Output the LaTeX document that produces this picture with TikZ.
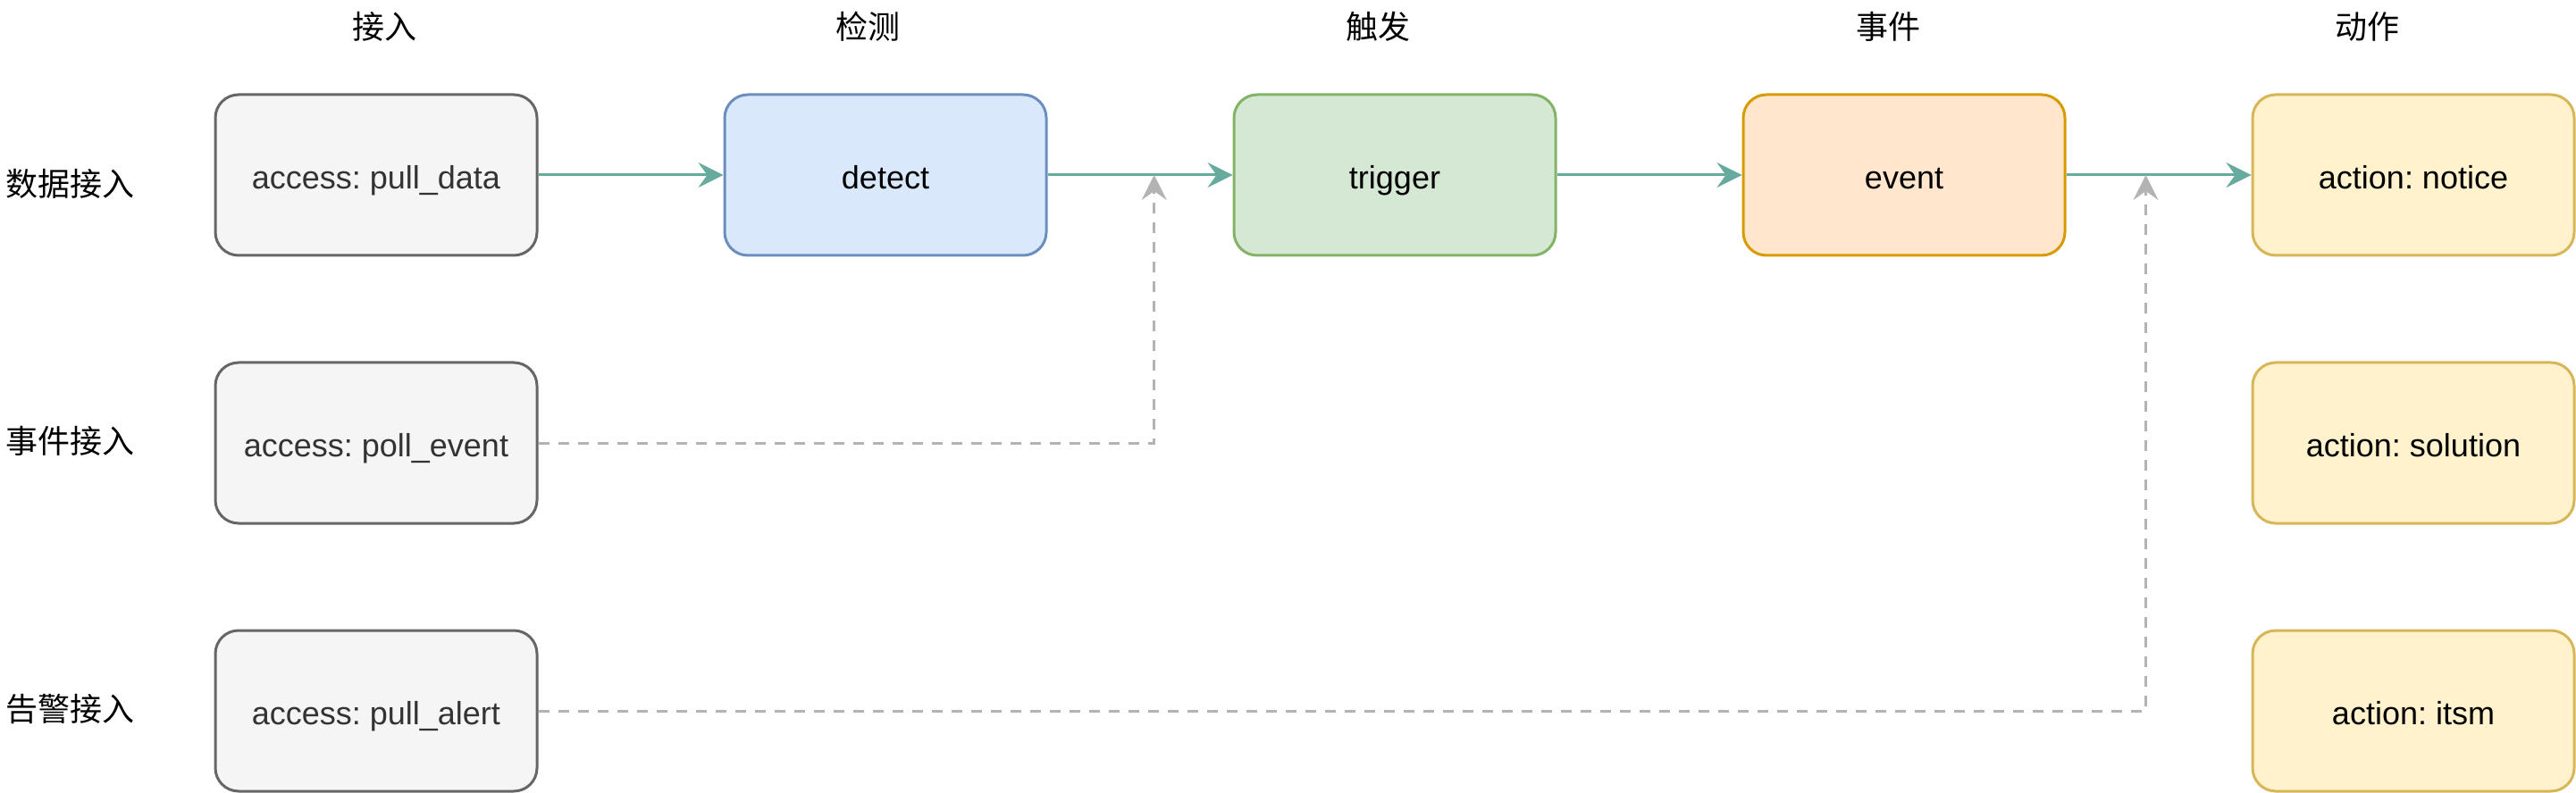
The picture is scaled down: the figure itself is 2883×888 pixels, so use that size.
\documentclass[tikz,border=0pt]{standalone}
\usepackage{fontspec}
\setmainfont{Liberation Sans}
\newfontfamily\cjk{Noto Sans CJK SC}
\usetikzlibrary{arrows.meta}
\frenchspacing

\definecolor{grayfill}{HTML}{F5F5F5}
\definecolor{graydraw}{HTML}{666666}
\definecolor{graytext}{HTML}{333333}
\definecolor{bluefill}{HTML}{DAE8FC}
\definecolor{bluedraw}{HTML}{6C8EBF}
\definecolor{greenfill}{HTML}{D5E8D4}
\definecolor{greendraw}{HTML}{82B366}
\definecolor{orangefill}{HTML}{FFE6CC}
\definecolor{orangedraw}{HTML}{D79B00}
\definecolor{yellowfill}{HTML}{FFF2CC}
\definecolor{yellowdraw}{HTML}{D6B656}
\definecolor{flowcolor}{HTML}{67AB9F}
\definecolor{dashcolor}{HTML}{B3B3B3}

\tikzset{
	box/.style={draw, rounded corners=6.5pt, minimum width=90pt, minimum height=45pt, inner sep=0pt, line width=0.75pt, text height=0.98em, text depth=0.2em},
	graybox/.style={box, fill=grayfill, draw=graydraw, text=graytext},
	bluebox/.style={box, fill=bluefill, draw=bluedraw},
	greenbox/.style={box, fill=greenfill, draw=greendraw},
	orangebox/.style={box, fill=orangefill, draw=orangedraw},
	yellowbox/.style={box, fill=yellowfill, draw=yellowdraw},
	flow/.style={draw=flowcolor, line width=0.75pt, -{Stealth[length=7pt, width=7pt, inset=2.5pt, fill=flowcolor]}},
	dashflow/.style={draw=dashcolor, line width=0.75pt, dash pattern=on 3pt off 2.5pt, -{Stealth[length=7pt, width=7pt, inset=2.5pt, fill=dashcolor]}},
}

\begin{document}
\begin{tikzpicture}[x=0.25pt, y=-0.25pt, font=\fontsize{9pt}{11pt}\selectfont]
	\useasboundingbox (0,0) rectangle (2883,888);
	%
	% column headers
	\def\heads {430/接入, 971/检测, 1542/触发, 2113/事件, 2649/动作};
	\foreach \x/\txt in \heads{
		\node[font=\cjk\fontsize{9pt}{11pt}\selectfont] (head\x) at (\x,30) {\txt};
	}
	% row labels
	\def\rows {data/206/数据接入, evt/494/事件接入, alert/794/告警接入};
	\foreach \label/\y/\txt in \rows{
		\node[anchor=west, inner sep=0pt, font=\cjk\fontsize{9pt}{11pt}\selectfont] (row\label) at (6,\y) {\txt};
	}
	% boxes
	\def\boxes {pulldata/421/196/access: pull\_data/graybox,
		pollevent/421/496/access: poll\_event/graybox,
		pullalert/421/796/access: pull\_alert/graybox,
		detect/991/196/detect/bluebox,
		trigger/1561/196/trigger/greenbox,
		event/2131/196/event/orangebox,
		notice/2701/196/action: notice/yellowbox,
		solution/2701/496/action: solution/yellowbox,
		itsm/2701/796/action: itsm/yellowbox};
	\foreach \label/\x/\y/\txt/\sty in \boxes{
		\node[\sty] (\label) at (\x,\y) {\txt};
	}
	% main flow
	\draw[flow] (pulldata) -- (detect);
	\draw[flow] (detect) -- coordinate[pos=0.576] (j1) (trigger);
	\draw[flow] (trigger) -- (event);
	\draw[flow] (event) -- coordinate[pos=0.43] (j2) (notice);
	% side inputs
	\draw[dashflow] (pollevent) -| (j1);
	\draw[dashflow] (pullalert) -| (j2);
\end{tikzpicture}
\end{document}
